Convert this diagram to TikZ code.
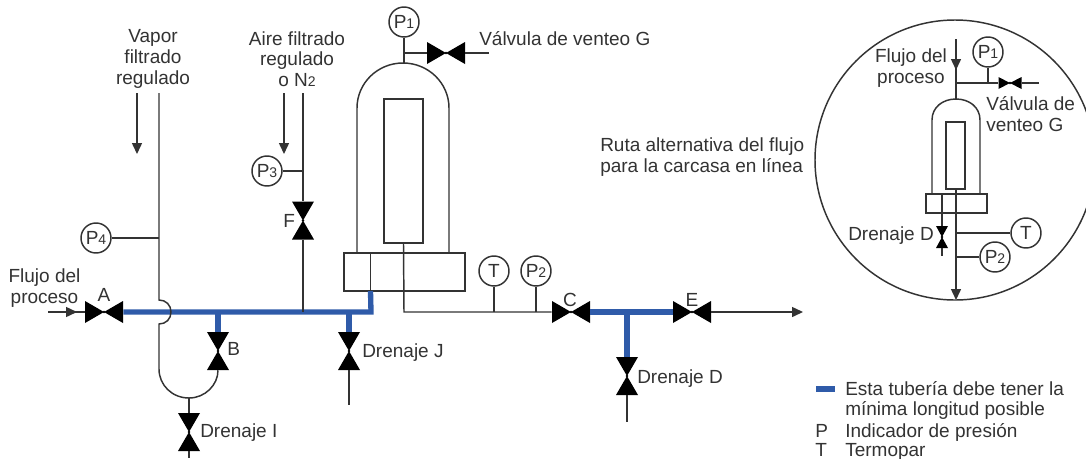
\documentclass[tikz,border=0pt]{standalone}
\usepackage{fontspec}
\setmainfont{Liberation Sans}
\usetikzlibrary{arrows.meta}
\definecolor{ink}{HTML}{333333}
\definecolor{pipeblue}{HTML}{2F5BA9}
\newcommand{\lowd}[1]{{\fontsize{10.5}{11}\selectfont #1}}
\tikzset{
  x=0.75pt,y=-0.75pt,
  pipe/.style={draw=ink,line width=1.1pt},
  short/.style={draw=pipeblue,line width=4pt},
  flow/.style={pipe,-{Triangle[length=8.25pt,width=7.5pt]}},
  gauge/.style={circle,draw=ink,line width=1.1pt,fill=white,minimum size=22.5pt,inner sep=0pt,text=ink,font=\fontsize{14.25}{15.5}\selectfont},
  label/.style={inner sep=0pt,text=ink,font=\fontsize{14.25}{15.5}\selectfont},
  lab/.style={label,text height=10.2pt,text depth=0pt},
  valveh/.style={inner sep=0pt,minimum width=28.5pt,minimum height=16.5pt,
    path picture={\fill[black] (path picture bounding box.south west)--(path picture bounding box.north east)--(path picture bounding box.south east)--(path picture bounding box.north west)--cycle;
      \fill[black] (path picture bounding box.center) circle[radius=1.1pt];}},
  valvev/.style={inner sep=0pt,minimum width=16.5pt,minimum height=28.5pt,
    path picture={\fill[black] (path picture bounding box.south west)--(path picture bounding box.north east)--(path picture bounding box.north west)--(path picture bounding box.south east)--cycle;
      \fill[black] (path picture bounding box.center) circle[radius=1.1pt];}},
  smallh/.style={valveh,minimum width=17.25pt,minimum height=9pt},
  smallv/.style={valvev,minimum width=9pt,minimum height=16.5pt},
  box/.style={draw=ink,line width=1.1pt,fill=white,inner sep=0pt}
}
\begin{document}
\begin{tikzpicture}
\useasboundingbox (0,0) rectangle (1086,458);
\clip (0,0) rectangle (1086,458);
\fill[white] (0,0) rectangle (1086,458);

% ---- coordinates
\coordinate (vapTop) at (159,93);
\coordinate (vapP4) at (159,238);
\coordinate (vapA) at (159,300);
\coordinate (vapB) at (159,324);
\coordinate (vapC) at (159,369);
\coordinate (uBot) at (189,398);
\coordinate (airTop) at (303,93);
\coordinate (airP3) at (303,171);
\coordinate (airJ) at (303,312);
\coordinate (bJ) at (218,312);
\coordinate (jJ) at (349,312);
\coordinate (cor) at (371,312);
\coordinate (baseIn) at (370.5,291);
\coordinate (baseTop) at (370.5,253);
\coordinate (outCor) at (404,312);
\coordinate (tJ) at (494,312);
\coordinate (p2J) at (536,312);
\coordinate (dJ) at (627,312);
\coordinate (ventJ) at (404,53);
\coordinate (domeTop) at (404,63);

% ---- main vessel
\node[box,minimum width=90.75pt,minimum height=28.5pt] (base) at (404.5,272) {};
\draw[pipe] (357,253) -- (357,108) .. controls (357,83.1) and (377.6,63) .. (403,63) .. controls (428.4,63) and (449,83.1) .. (449,108) -- (449,253);
\node[box,minimum width=29.25pt,minimum height=108pt] (cart) at (403.5,171) {};

% ---- valves
\node[valveh] (A) at (104,312) {};
\node[valvev] (B) at (218,351) {};
\node[valvev] (F) at (303,220.5) {};
\node[valvev] (J) at (349,351) {};
\node[valvev] (I) at (189,432) {};
\node[valveh] (C) at (571,312) {};
\node[valveh] (E) at (692,312) {};
\node[valvev] (Dv) at (627,376) {};
\node[valveh] (G) at (446,53) {};

% ---- gauges
\node[gauge] (P1) at (404,22) {P\lowd{1}};
\node[gauge] (P3) at (267,171) {P\lowd{3}};
\node[gauge] (P4) at (96,238) {P\lowd{4}};
\node[gauge] (T) at (494,271) {T};
\node[gauge] (P2) at (536,271) {P\lowd{2}};

% ---- blue pipes
\draw[short,line join=miter] (A.east) -- (cor) -- (baseIn);
\draw[short] (bJ) -- (B.north);
\draw[short] (jJ) -- (J.north);
\draw[short] (C.east) -- (E.west);
\draw[short] (dJ) -- (Dv.north);

% ---- thin pipes
\draw[pipe] (vapTop) -- (vapA) .. controls (166,300) and (171,305) .. (171,312) .. controls (171,319) and (166,324) .. (vapB) -- (vapC) .. controls (159,385) and (172,398) .. (uBot) .. controls (205,398) and (218,385) .. (B.south);
\draw[pipe] (P4) -- (vapP4);
\draw[pipe] (uBot) -- (I.north);
\draw[pipe] (I.south) -- (189,458);
\draw[pipe] (airTop) -- (F.north);
\draw[pipe] (F.south) -- (airJ);
\draw[pipe] (P3) -- (airP3);
\draw[pipe] (J.south) -- (349,405);
\draw[pipe] (baseTop) -- (baseIn);
\draw[pipe] (P1) -- (domeTop);
\draw[pipe] (ventJ) -- (G.west);
\coordinate (ventEnd) at (489,53);
\draw[pipe] (G.east) -- (ventEnd);
\draw[pipe] (cart.south) -- (outCor) -- (C.west);
\draw[pipe] (T) -- (tJ);
\draw[pipe] (P2) -- (p2J);
\coordinate (outEnd) at (803,312);
\draw[flow] (E.east) -- (outEnd);
\coordinate (dvEnd) at (627,422);
\draw[pipe] (Dv.south) -- (dvEnd);

% ---- free arrows
\coordinate (a1s) at (137,93); \coordinate (a1e) at (137,154);
\draw[flow] (a1s) -- (a1e);
\coordinate (a2s) at (284,93); \coordinate (a2e) at (284,154);
\draw[flow] (a2s) -- (a2e);
\coordinate (inS) at (48,312); \coordinate (inM) at (77,312);
\draw[pipe] (inS) -- (A.west);
\draw[flow] (inS) -- (inM);

% ---- inset
\node[circle,draw=ink,line width=1.1pt,minimum size=210pt,inner sep=0pt] (inset) at (955,160) {};
\node[box,minimum width=45.75pt,minimum height=14.25pt] (ibase) at (956.5,203.5) {};
\draw[pipe] (932,194) -- (932,120) .. controls (932,107) and (943,99) .. (956,99) .. controls (969,99) and (980,107) .. (980,120) -- (980,194);
\node[box,minimum width=14.25pt,minimum height=50.25pt] (icart) at (955.5,155.5) {};
\node[smallh] (iG) at (1010,83) {};
\node[smallv] (iD) at (942,237) {};
\node[gauge] (iP1) at (988,52) {P\lowd{1}};
\node[gauge] (iT) at (1026,233) {T};
\node[gauge] (iP2) at (995,257) {P\lowd{2}};
\coordinate (iTop) at (956,39);
\coordinate (iArr) at (956,70);
\coordinate (iJ) at (956,83);
\coordinate (iDome) at (956,99);
\coordinate (iGauge) at (988,83);
\coordinate (iVentEnd) at (1039,83);
\coordinate (iTJ) at (956,233);
\coordinate (iPJ) at (956,257);
\coordinate (iOut) at (956,300);
\coordinate (iDtop) at (942,194);
\coordinate (iDend) at (942,256);
\draw[pipe] (iTop) -- (iDome);
\draw[flow] (iTop) -- (iArr);
\draw[pipe] (iJ) -- (iG.west);
\draw[pipe] (iP1) -- (iGauge);
\draw[pipe] (iG.east) -- (iVentEnd);
\draw[pipe] (iDtop) -- (iD.north);
\draw[pipe] (iD.south) -- (iDend);
\draw[flow] (icart.south -| iOut) -- (iOut);
\draw[pipe] (iT) -- (iTJ);
\draw[pipe] (iP2) -- (iPJ);

% ---- legend
\coordinate (legA) at (816,389); \coordinate (legB) at (835,389);
\draw[short] (legA) -- (legB);

% ---- labels
\node[label,align=center] (tFlujo) at (44.5,288) {Flujo del\\proceso};
\node[lab] (tA) at (104,295) {A};
\node[lab,anchor=west] (tB) at (227,349) {B};
\node[lab,anchor=west] (tF) at (283,221) {F};
\node[lab] (tC) at (570,300) {C};
\node[lab] (tE) at (692,300) {E};
\node[label,align=center] (tVapor) at (153,59) {Vapor\\filtrado\\regulado};
\node[label,align=center] (tAire) at (297,59) {Aire filtrado\\regulado\\o N\lowd{2}};
\node[lab,anchor=west] (tG) at (479,39) {Válvula de venteo G};
\node[label,align=left,anchor=west] (tRuta) at (600,157) {Ruta alternativa del flujo\\para la carcasa en línea};
\node[lab,anchor=west] (tDJ) at (362,351) {Drenaje J};
\node[lab,anchor=west] (tDI) at (200,431) {Drenaje I};
\node[lab,anchor=west] (tDD) at (637,377) {Drenaje D};
\node[label,align=center] (tiF) at (911,68) {Flujo del\\proceso};
\node[label,align=left,anchor=west] (tiG) at (986,114) {Válvula de\\venteo G};
\node[lab,anchor=west] (tiD) at (848,234) {Drenaje D};
\node[label,align=left,anchor=west] (tL1) at (845,400.5) {Esta tubería debe tener la\\mínima longitud posible};
\node[lab,anchor=west] (tLP) at (815,431) {P};
\node[lab,anchor=west] (tLPt) at (845,431) {Indicador de presión};
\node[lab,anchor=west] (tLT) at (815,450) {T};
\node[lab,anchor=west] (tLTt) at (845,450) {Termopar};
\end{tikzpicture}
\end{document}
